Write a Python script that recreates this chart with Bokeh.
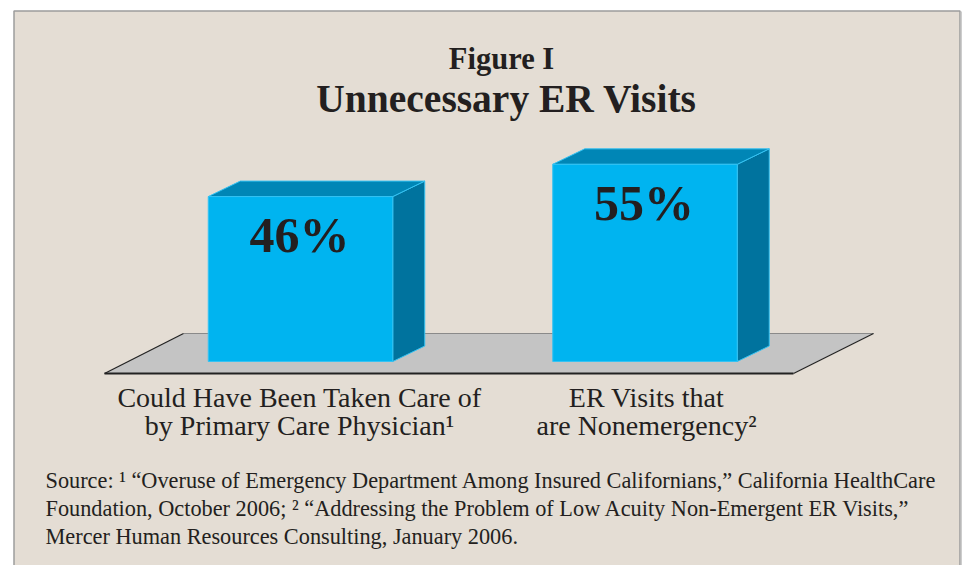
from bokeh.plotting import figure
from bokeh.models import Range1d
from bokeh.embed import file_html
from bokeh.resources import INLINE
from bokeh.core.properties import value

# ---- data ----
categories = ["Could Have Been Taken Care of\nby Primary Care Physician\u00b9",
              "ER Visits that\nare Nonemergency\u00b2"]
values = [46, 55]
value_labels = ["46%", "55%"]
title_line1 = "Figure I"
title_line2 = "Unnecessary ER Visits"
source_lines = [
    "Source: \u00b9 \u201cOveruse of Emergency Department Among Insured Californians,\u201d California HealthCare",
    "Foundation, October 2006; \u00b2 \u201cAddressing the Problem of Low Acuity Non-Emergent ER Visits,\u201d",
    "Mercer Human Resources Consulting, January 2006.",
]

# ---- layout ----
W, H = 966, 565
PX = 3.585            # pixels per percentage point
BASE = 361            # page y of the zero line
def py(pix):          # page pixel y -> data y
    return (BASE - pix) / PX

SHIFT = 0.37          # baseline correction (fraction of font size)
def tb(pix, size):    # desired baseline pixel -> data y for text glyph
    return py(pix - SHIFT * size)

p = figure(width=W, height=H, output_backend="svg", toolbar_location=None,
           x_range=Range1d(0, W), y_range=Range1d(py(H), py(0)),
           min_border=0)
p.axis.visible = False
p.grid.visible = False
p.outline_line_color = None
p.background_fill_color = "white"
p.border_fill_color = "white"

FONT = "Liberation Serif"
TXT = "#231f20"

# panel
p.patch([13.5, 959.5, 959.5, 13.5], [py(10.5), py(10.5), py(600), py(600)],
        fill_color="#e4ddd4", line_color="#9c9c9c", line_width=1.5)
p.line([960.8, 960.8], [py(11), py(600)], line_color="#c8c8c8", line_width=1.2)

# floor
fx = [104, 183, 873, 793]
fy = [py(373), py(333), py(333), py(373)]
p.patch(fx, fy, fill_color="#c4c4c4", line_color=None)
p.line([183, 873], [py(333), py(333)], line_color="#8a8a8a", line_width=1)
p.line([104, 183], [py(373), py(333)], line_color="#222222", line_width=1.2)
p.line([873, 793], [py(333), py(373)], line_color="#222222", line_width=1.2)
p.line([104, 793], [py(373), py(373)], line_color="#222222", line_width=2)

# bars (pseudo 3D)
centers = [300, 644.5]
bw = 184.5
dx = 32
dyv = 15.5 / PX
front_col, top_col, side_col, edge_col = "#00b4f0", "#0086b6", "#00739e", "#35c2f2"
for c, v in zip(centers, values):
    xl, xr = c - bw / 2, c + bw / 2
    p.patch([xr, xr, xr + dx, xr + dx], [0, v, v + dyv, dyv],
            fill_color=side_col, line_color=edge_col, line_width=1)
    p.patch([xl, xl + dx, xr + dx, xr], [v, v + dyv, v + dyv, v],
            fill_color=top_col, line_color=edge_col, line_width=1)
    p.quad(left=[xl], right=[xr], bottom=[0], top=[v],
           fill_color=front_col, line_color=edge_col, line_width=1)

# value labels
VS = 50
p.text(x=[c - 1 for c in centers], y=[v - (57 - SHIFT * VS) / PX for v in values],
       text=value_labels,
       text_font=value(FONT), text_font_style="bold", text_font_size=f"{VS}px",
       text_color=TXT, text_align="center", text_baseline="alphabetic")

# category labels
cat_x = [299, 646]
CS = 28
for i, cat in enumerate(categories):
    for j, line in enumerate(cat.split("\n")):
        p.text(x=[cat_x[i]], y=[tb(407 + 28 * j, CS)], text=[line],
               text_font=value(FONT), text_font_size=f"{CS}px",
               text_color=TXT, text_align="center", text_baseline="alphabetic")

# titles
p.text(x=[501], y=[tb(70, 30.5)], text=[title_line1], text_font=value(FONT),
       text_font_style="bold", text_font_size="30.5px", text_color=TXT,
       text_align="center", text_baseline="alphabetic")
p.text(x=[506], y=[tb(113, 39.5)], text=[title_line2], text_font=value(FONT),
       text_font_style="bold", text_font_size="39.5px", text_color=TXT,
       text_align="center", text_baseline="alphabetic")

# source
SS = 22.3
for j, line in enumerate(source_lines):
    p.text(x=[45], y=[tb(488 + 28 * j, SS)], text=[line], text_font=value(FONT),
           text_font_size=f"{SS}px", text_color=TXT,
           text_align="left", text_baseline="alphabetic")

open("out.html", "w").write(file_html(p, INLINE))
